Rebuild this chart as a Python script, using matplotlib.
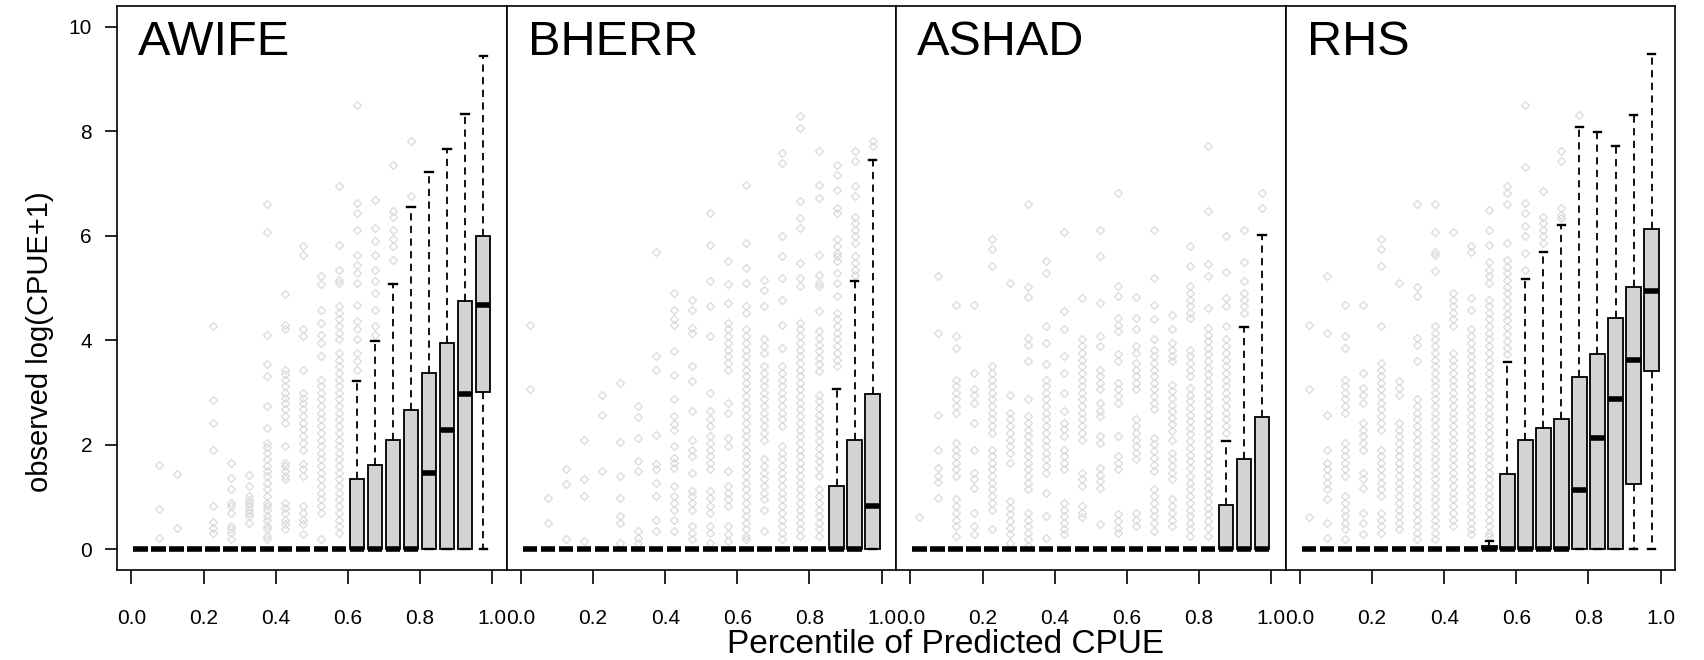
import numpy as np
import matplotlib
matplotlib.use("Agg")
import matplotlib.pyplot as plt

plt.rcParams['font.family'] = ['Liberation Sans', 'DejaVu Sans']

# percentile bins (box positions)
pct_bins = [0.025, 0.075, 0.125, 0.175, 0.225, 0.275, 0.325, 0.375, 0.425, 0.475,
            0.525, 0.575, 0.625, 0.675, 0.725, 0.775, 0.825, 0.875, 0.925, 0.975]

species = ["AWIFE", "BHERR", "ASHAD", "RHS"]

# ---- AWIFE ----
awife_q1 = [0, 0, 0, 0, 0, 0, 0, 0, 0, 0, 0, 0, 0, 0, 0, 0, 0, 0, 0, 3.01]
awife_med = [0, 0, 0, 0, 0, 0, 0, 0, 0, 0, 0, 0, 0, 0, 0, 0, 1.47, 2.29, 2.98, 4.67]
awife_q3 = [0, 0, 0, 0, 0, 0, 0, 0, 0, 0, 0, 0, 1.34, 1.61, 2.10, 2.66, 3.38, 3.94, 4.75, 5.99]
awife_hi = [0, 0, 0, 0, 0, 0, 0, 0, 0, 0, 0, 0, 3.22, 3.98, 5.07, 6.55, 7.23, 7.67, 8.33, 9.44]
awife_out = [
    "",
    "1.61 0.78 0.21",
    "1.45 0.41",
    "",
    "4.27 2.86 2.42 1.90 0.82 0.52 0.40 0.31",
    "1.66 1.37 1.15 0.89 0.82 0.70 0.45 0.38 0.31 0.19",
    "1.43 1.21 1.02 0.95 0.89 0.83 0.76 0.70 0.64 0.51",
    "6.60 6.07 4.10 3.54 3.31 2.74 2.33 2.04 1.95 1.85 1.72 1.60 1.50 1.40 1.27 1.15 1.02 0.89 0.82 0.76 0.64 0.57 0.45 0.38 0.25 0.19",
    "4.88 4.30 4.21 3.44 3.35 3.25 3.12 3.00 2.90 2.80 2.68 2.55 2.42 1.98 1.66 1.59 1.50 1.40 1.34 0.89 0.80 0.70 0.57 0.48 0.38",
    "5.80 5.64 4.22 4.08 3.44 3.00 2.90 2.80 2.68 2.55 2.42 2.30 2.17 2.04 1.91 1.63 1.53 1.40 0.83 0.70 0.57 0.48 0.29",
    "5.23 5.07 4.59 4.33 4.11 3.95 3.70 3.25 3.12 3.00 2.87 2.74 2.61 2.49 2.36 2.23 2.10 1.98 1.85 1.72 1.59 1.47 1.34 1.21 1.08 0.96 0.83 0.70 0.19",
    "6.95 5.83 5.35 5.16 5.10 4.65 4.53 4.40 4.27 4.14 4.02 3.76 3.63 3.50 3.38 3.25 3.12 3.00 2.87 2.74 2.61 2.49 2.36 2.23 2.10 1.98 1.85 1.72 1.59 1.47 1.34 1.21 1.08 0.96 0.83 0.70 0.57 0.45 0.32",
    "8.51 6.63 6.44 6.12 5.64 5.45 5.29 5.10 4.68 4.37 4.21 4.02 3.76 3.60 3.44",
    "6.69 6.15 5.90 5.64 5.35 5.13 4.91 4.59 4.27 4.11",
    "7.36 6.47 6.37 6.12 5.93 5.80 5.54",
    "7.81 6.76",
    "", "", "", "",
]

# ---- BHERR ----
bherr_q1 = [0, 0, 0, 0, 0, 0, 0, 0, 0, 0, 0, 0, 0, 0, 0, 0, 0, 0, 0, 0]
bherr_med = [0, 0, 0, 0, 0, 0, 0, 0, 0, 0, 0, 0, 0, 0, 0, 0, 0, 0, 0, 0.82]
bherr_q3 = [0, 0, 0, 0, 0, 0, 0, 0, 0, 0, 0, 0, 0, 0, 0, 0, 0, 1.21, 2.10, 2.98]
bherr_hi = [0, 0, 0, 0, 0, 0, 0, 0, 0, 0, 0, 0, 0, 0, 0, 0, 0, 3.06, 5.13, 7.46]
bherr_out = [
    "4.30 3.06",
    "0.99 0.50",
    "1.54 1.26 0.19",
    "2.10 1.34 1.02 0.16",
    "2.96 2.58 1.50",
    "3.19 2.06 1.41 0.99 0.64 0.51 0.13",
    "2.74 2.54 2.14 1.69 1.50 0.35 0.22 0.13",
    "5.70 3.70 3.44 2.18 1.63 1.53 1.27 1.02 0.57 0.35",
    "4.91 4.59 4.40 4.30 3.79 3.33 2.87 2.55 2.39 2.29 1.98 1.75 1.66 1.56 1.21 1.02 0.89 0.76 0.57 0.35",
    "4.78 4.59 4.24 4.14 3.51 3.22 2.64 2.10 1.91 1.78 1.47 1.12 1.02 0.89 0.76 0.45 0.32 0.19",
    "6.44 5.83 5.13 4.65 4.08 3.00 2.64 2.49 2.36 2.17 2.04 1.91 1.78 1.66 1.53 1.12 0.99 0.83 0.70 0.45 0.32 0.13",
    "5.51 5.07 4.72 4.33 4.21 4.08 3.95 3.82 3.70 3.57 3.44 2.80 2.61 2.14 1.98 1.50 1.21 1.08 0.96 0.83 0.45 0.29 0.16",
    "6.98 5.86 5.39 5.10 4.65 4.53 4.21 4.08 3.95 3.82 3.70 3.57 3.44 3.31 3.19 3.06 2.93 2.80 2.68 2.55 2.42 2.29 2.17 2.04 1.91 1.78 1.66 1.53 1.40 1.27 1.15 1.02 0.89 0.76 0.64 0.51 0.38 0.25 0.19",
    "5.16 4.97 4.65 4.02 3.89 3.76 3.51 3.38 3.25 3.12 3.00 2.87 2.74 2.61 2.49 2.36 2.23 2.10 1.72 1.59 1.47 1.34 1.21 1.08 0.96 0.76 0.35",
    "7.58 7.39 5.99 5.61 5.19 4.78 4.30 3.86 3.51 3.38 3.25 3.12 3.00 2.87 2.74 2.61 2.49 2.36 1.98 1.85 1.72 1.59 1.47 1.34 1.21 1.08 0.96 0.83 0.70 0.57 0.45 0.32 0.19",
    "8.29 8.06 6.66 6.34 6.15 5.48 5.19 5.04 4.33 4.21 4.08 3.95 3.82 3.70 3.57 3.44 3.31 3.19 3.06 2.93 2.80 2.68 2.55 2.42 2.29 2.17 2.04 1.91 1.78 1.66 1.53 1.40 1.27 1.15 1.02 0.89 0.76 0.64 0.51 0.38 0.25",
    "7.62 6.98 6.72 5.64 5.26 5.10 5.04 4.56 4.17 4.05 3.92 3.79 3.66 3.54 3.41 2.96 2.83 2.70 2.58 2.45 2.32 2.20 2.07 1.94 1.81 1.69 1.56 1.40 1.15 1.02 0.89 0.76 0.64 0.51 0.38 0.25",
    "7.36 7.17 6.88 6.53 6.44 5.93 5.80 5.67 5.61 5.51 5.29 5.10 4.84 4.53 4.40 4.27 4.14 4.02 3.89 3.76 3.63 3.51",
    "7.62 7.43 6.95 6.76 6.37 6.24 6.12 5.99 5.86 5.61 5.48 5.35 5.26",
    "7.81 7.71",
]

# ---- ASHAD ----
ashad_q1 = [0, 0, 0, 0, 0, 0, 0, 0, 0, 0, 0, 0, 0, 0, 0, 0, 0, 0, 0, 0]
ashad_med = [0, 0, 0, 0, 0, 0, 0, 0, 0, 0, 0, 0, 0, 0, 0, 0, 0, 0, 0, 0]
ashad_q3 = [0, 0, 0, 0, 0, 0, 0, 0, 0, 0, 0, 0, 0, 0, 0, 0, 0, 0.85, 1.73, 2.54]
ashad_hi = [0, 0, 0, 0, 0, 0, 0, 0, 0, 0, 0, 0, 0, 0, 0, 0, 0, 2.08, 4.26, 6.02]
ashad_out = [
    "0.61",
    "5.23 4.14 2.58 1.90 1.56 1.40 1.28 0.99",
    "4.67 4.08 3.86 3.25 3.12 3.00 2.87 2.74 2.61 2.04 1.91 1.78 1.66 1.53 1.40 0.96 0.83 0.70 0.57 0.45 0.25",
    "4.67 3.38 3.06 2.96 2.80 2.42 1.91 1.47 1.34 1.18 0.70 0.45 0.29",
    "5.94 5.74 5.43 3.51 3.38 3.25 3.12 3.00 2.87 2.74 2.61 2.49 2.36 2.23 1.91 1.78 1.66 1.53 1.40 1.27 1.15 1.02 0.89 0.76 0.38",
    "5.09 2.96 2.61 2.49 2.36 2.23 2.10 1.98 1.85 1.66 0.92 0.80 0.67 0.54 0.41 0.29 0.13",
    "6.60 5.02 4.83 4.05 3.92 3.60 2.87 2.55 2.42 2.29 2.17 2.04 1.91 1.78 1.66 1.53 1.40 1.27 1.15 0.70 0.57 0.45 0.32 0.19 0.06",
    "5.51 5.29 4.27 3.95 3.54 3.25 3.12 3.00 2.87 2.74 2.61 2.49 2.36 2.23 2.10 1.98 1.85 1.72 1.59 1.47 1.08 0.64 0.22",
    "6.07 4.56 4.22 3.70 3.38 3.00 2.64 2.42 2.30 2.17 1.91 1.78 1.66 1.53 0.89 0.76 0.64 0.51 0.38 0.29",
    "4.81 4.02 3.89 3.76 3.63 3.51 3.38 3.25 3.12 3.00 2.87 2.74 2.61 2.49 2.36 2.23 2.10 1.47 1.34 1.21 0.83 0.70 0.61",
    "6.11 5.61 4.72 4.08 3.89 3.44 3.31 3.19 3.06 2.80 2.64 2.55 2.17 2.04 1.56 1.43 1.30 1.18 0.48",
    "6.82 5.04 4.84 4.43 4.30 4.17 3.73 3.60 3.19 3.06 2.93 2.80 2.17 1.78 1.66 1.53 0.67 0.54 0.41 0.32",
    "4.83 4.43 4.22 3.89 3.76 3.57 3.44 3.31 3.19 3.06 2.49 2.36 2.23 2.10 1.98 1.85 1.72 0.70 0.57 0.45",
    "6.11 5.19 4.67 4.40 4.02 3.82 3.70 3.57 3.44 3.31 3.19 3.06 2.93 2.80 2.68 2.14 2.01 1.88 1.75 1.62 1.50 1.15 1.02 0.89 0.76 0.64 0.51 0.35",
    "4.49 4.22 3.95 3.82 3.70 3.60 3.15 3.03 2.90 2.77 2.64 2.52 2.39 2.26 2.10 1.85 1.72 1.59 1.47 1.34 0.96 0.83 0.70 0.57 0.45",
    "5.80 5.43 5.04 4.91 4.78 4.65 4.53 4.43 3.82 3.70 3.57 3.44 3.31 3.09 2.96 2.83 2.70 2.58 2.45 2.32 2.20 2.07 1.94 1.81 1.69 1.56 1.40 1.27 1.15 1.02 0.89 0.76 0.64 0.51 0.38 0.25",
    "7.71 6.47 5.47 5.23 4.62 4.24 4.11 3.98 3.86 3.73 3.60 3.47 3.35 3.22 3.09 2.96 2.83 2.70 2.58 2.45 2.32 2.20 2.07 1.94 1.81 1.69 1.56 1.43 1.30 1.18 1.05 0.92 0.80 0.67 0.54 0.41 0.25",
    "6.00 5.30 4.81 4.65 4.27 4.02 3.89 3.76 3.63 3.51 3.38 3.25 3.12 3.00 2.87 2.74 2.61 2.49 2.36 2.23",
    "6.11 5.49 5.13 4.91 4.78 4.65 4.53",
    "6.82 6.53",
]

# ---- RHS ----
rhs_q1 = [0, 0, 0, 0, 0, 0, 0, 0, 0, 0, 0, 0, 0, 0, 0, 0, 0, 0, 1.26, 3.42]
rhs_med = [0, 0, 0, 0, 0, 0, 0, 0, 0, 0, 0, 0, 0, 0, 0, 1.13, 2.14, 2.87, 3.62, 4.95]
rhs_q3 = [0, 0, 0, 0, 0, 0, 0, 0, 0, 0, 0.06, 1.45, 2.09, 2.33, 2.49, 3.30, 3.73, 4.42, 5.02, 6.14]
rhs_hi = [0, 0, 0, 0, 0, 0, 0, 0, 0, 0, 0.16, 3.58, 5.18, 5.69, 6.21, 8.09, 7.99, 7.71, 8.32, 9.48]
rhs_out = [
    "4.30 3.06 0.62",
    "5.23 4.14 2.58 1.90 1.66 1.53 1.40 1.27 1.15 0.96 0.51 0.22",
    "4.67 4.08 3.86 3.25 3.12 3.00 2.87 2.74 2.61 2.04 1.91 1.78 1.66 1.53 1.40 1.02 0.89 0.76 0.64 0.51 0.38 0.19",
    "4.67 3.38 3.09 2.96 2.80 2.42 2.29 2.17 2.04 1.91 1.47 1.34 1.18 0.70 0.51 0.29",
    "5.94 5.74 5.43 4.27 3.57 3.44 3.31 3.19 3.06 2.93 2.80 2.68 2.55 2.42 2.29 1.91 1.78 1.66 1.53 1.40 1.27 1.15 1.02 0.70 0.57 0.45 0.32",
    "5.09 3.22 3.09 2.96 2.42 2.29 2.17 2.04 1.91 1.78 1.66 1.53 1.40 1.27 1.15 1.02 0.89 0.76 0.64 0.51 0.38",
    "6.60 5.02 4.84 4.05 3.92 3.60 2.87 2.74 2.61 2.49 2.36 2.23 2.10 1.98 1.85 1.72 1.59 1.47 1.34 1.21 1.08 0.96 0.83 0.70 0.57 0.45 0.32 0.19",
    "6.60 6.07 5.70 5.64 5.32 4.27 4.14 4.02 3.89 3.76 3.63 3.51 3.38 3.25 3.12 3.00 2.87 2.74 2.61 2.49 2.36 2.23 2.10 1.98 1.85 1.72 1.59 1.47 1.34 1.21 1.08 0.96 0.83 0.70 0.57 0.45 0.32 0.19",
    "6.07 4.91 4.78 4.65 4.53 4.40 4.27 3.76 3.63 3.51 3.38 3.25 3.12 3.00 2.87 2.74 2.61 2.49 2.36 2.23 2.10 1.98 1.85 1.72 1.59 1.47 1.34 1.21 1.08 0.96 0.83 0.70 0.57 0.45",
    "5.80 5.70 4.81 4.59 4.22 4.08 3.95 3.82 3.70 3.57 3.44 3.31 3.19 3.06 2.93 2.80 2.68 2.55 2.42 2.29 2.17 2.04 1.91 1.78 1.66 1.53 1.40 1.27 1.15 1.02 0.89 0.76 0.64 0.51 0.38 0.29",
    "6.50 6.11 5.83 5.49 5.35 5.23 5.10 4.78 4.65 4.53 4.40 4.27 4.14 4.02 3.89 3.76 3.63 3.51 3.38 3.25 3.12 3.00 2.87 2.74 2.61 2.49 2.36 2.23 2.10 1.98 1.85 1.72 1.59 1.47 1.34 1.21 1.08 0.96 0.83 0.70 0.57 0.45 0.32 0.25",
    "6.95 6.82 6.60 5.86 5.54 5.41 5.28 5.16 5.03 4.90 4.77 4.64 4.51 4.38 4.25 4.12 3.99 3.86 3.73",
    "8.51 7.32 6.63 6.44 6.18 5.99 5.67 5.35",
    "6.85 6.37 6.24 6.12 5.99 5.86",
    "7.62 7.43 6.53 6.40 6.34",
    "8.32",
    "", "", "", "",
]

panels = [
    (awife_q1, awife_med, awife_q3, awife_hi, awife_out),
    (bherr_q1, bherr_med, bherr_q3, bherr_hi, bherr_out),
    (ashad_q1, ashad_med, ashad_q3, ashad_hi, ashad_out),
    (rhs_q1, rhs_med, rhs_q3, rhs_hi, rhs_out),
]

fig = plt.figure(figsize=(17.04, 6.6), dpi=100)
axes = fig.subplots(1, 4, sharey=True, gridspec_kw=dict(wspace=0))
fig.subplots_adjust(left=0.0687, right=0.983, top=0.991, bottom=0.136)

for k, ax in enumerate(axes):
    q1, med, q3, hi, out = panels[k]
    stats = []
    for i in range(len(pct_bins)):
        stats.append(dict(q1=q1[i], med=med[i], q3=q3[i], whislo=0.0, whishi=hi[i],
                          fliers=np.array([float(v) for v in out[i].split()])))
    ax.bxp(stats, positions=pct_bins, widths=0.04, capwidths=0.02,
           patch_artist=True, manage_ticks=False,
           boxprops=dict(facecolor='#d3d3d3', edgecolor='black', linewidth=1.3),
           medianprops=dict(color='black', linewidth=4, solid_capstyle='butt'),
           whiskerprops=dict(color='black', linewidth=1.3, linestyle=(0, (4, 3))),
           capprops=dict(color='black', linewidth=1.7),
           flierprops=dict(marker='D', markersize=3.6, markerfacecolor='none',
                           markeredgecolor='#dadada', markeredgewidth=0.9, zorder=1))
    ax.set_xlim(-0.04, 1.04)
    ax.set_ylim(-0.4, 10.4)
    ax.set_xticks([0.0, 0.2, 0.4, 0.6, 0.8, 1.0])
    ax.set_xticklabels(["0.0", "0.2", "0.4", "0.6", "0.8", "1.0"])
    ax.tick_params(axis='x', length=10, width=1.2, labelsize=15, pad=18)
    ax.text(0.054, 0.913, species[k], transform=ax.transAxes, fontsize=35,
            va='baseline', ha='left')
    for s in ax.spines.values():
        s.set_linewidth(1.2)
    if k == 0:
        ax.set_yticks([0, 2, 4, 6, 8, 10])
        ax.tick_params(axis='y', length=9, width=1.2, labelsize=15, pad=9)
    else:
        ax.tick_params(axis='y', left=False, labelleft=False)

fig.text(0.0235, 0.482, "observed log(CPUE+1)", fontsize=21, rotation=90,
         ha='center', va='center')
fig.text(0.555, 0.024, "Percentile of Predicted CPUE", fontsize=24, ha='center', va='center')

fig.savefig("out.png", dpi=100)
